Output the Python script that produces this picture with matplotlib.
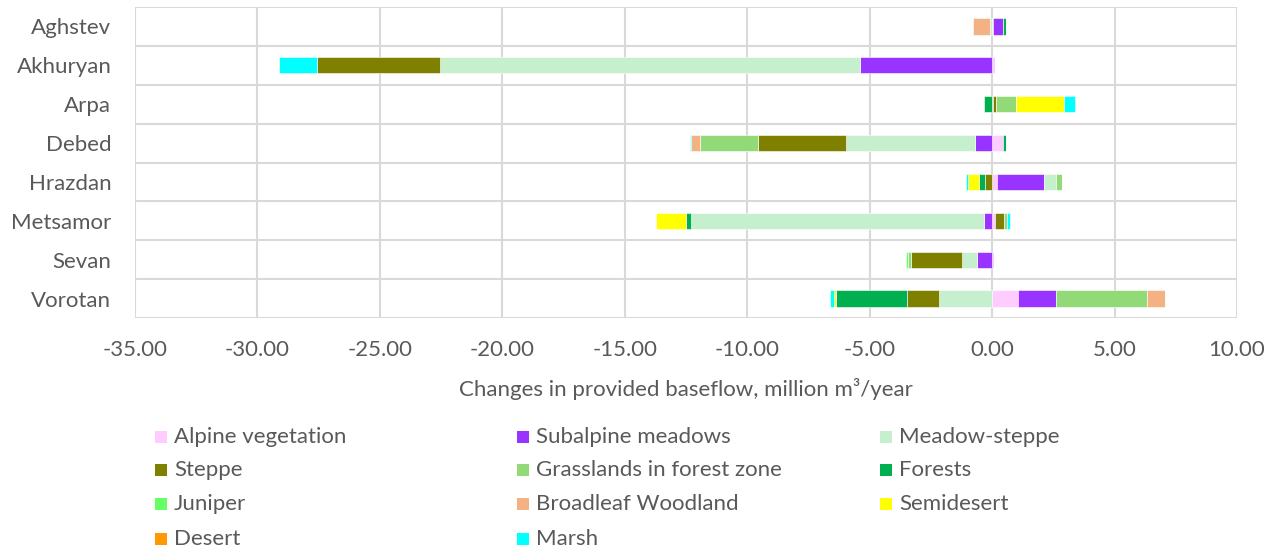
import numpy as np
import matplotlib
matplotlib.use("Agg")
import matplotlib.pyplot as plt
from matplotlib.patches import Rectangle

plt.rcParams['font.family'] = ['Lato', 'DejaVu Sans']

basins = ['Aghstev', 'Akhuryan', 'Arpa', 'Debed', 'Hrazdan', 'Metsamor', 'Sevan', 'Vorotan']

# values per series, in basin order (million m3/year)
alpine      = [0.03, 0.13, 0.03, 0.44, 0.20, 0.10, 0.08, 1.05]
subalpine   = [0.43, -5.41, 0.00, -0.68, 1.90, -0.33, -0.62, 1.56]
meadow      = [-0.07, -17.15, 0.00, -5.29, 0.50, -11.96, -0.61, -2.18]
steppe      = [0.00, -4.99, 0.13, -3.60, -0.28, 0.40, -2.10, -1.28]
grassland   = [0.00, 0.00, 0.80, -2.35, 0.25, 0.12, -0.12, 3.70]
forests     = [0.11, 0.00, -0.33, 0.14, -0.27, -0.20, 0.00, -2.91]
juniper     = [0.00, 0.00, 0.00, 0.00, 0.00, 0.00, -0.06, 0.00]
broadleaf   = [-0.70, 0.00, 0.00, -0.38, 0.00, 0.00, 0.00, 0.75]
semidesert  = [0.00, 0.00, 1.97, 0.00, -0.44, -1.23, 0.00, -0.07]
desert      = [0.00, 0.00, 0.00, 0.00, 0.00, 0.00, 0.00, 0.00]
marsh       = [0.00, -1.57, 0.45, -0.04, -0.08, 0.12, 0.00, -0.19]

series = [
    ('Alpine vegetation', alpine, '#FFCCFF'),
    ('Subalpine meadows', subalpine, '#9933FF'),
    ('Meadow-steppe', meadow, '#C6EFCE'),
    ('Steppe', steppe, '#808000'),
    ('Grasslands in forest zone', grassland, '#92D978'),
    ('Forests', forests, '#00B050'),
    ('Juniper', juniper, '#66FF66'),
    ('Broadleaf Woodland', broadleaf, '#F4B183'),
    ('Semidesert', semidesert, '#FFFF00'),
    ('Desert', desert, '#FF9900'),
    ('Marsh', marsh, '#00FFFF'),
]

text_col = '#595959'
grid_col = '#D9D9D9'
fs = 16

fig = plt.figure(figsize=(12.75, 5.56), dpi=100)
ax = fig.add_axes([135/1275, 1 - 318/556, (1237 - 135)/1275, (318 - 7)/556])

y = np.arange(len(basins))
pos = np.zeros(len(basins))
neg = np.zeros(len(basins))
for name, vals, col in series:
    v = np.array(vals)
    left = np.where(v >= 0, pos, neg)
    ax.barh(y, v, left=left, height=0.42, color=col, edgecolor='white',
            linewidth=0.4, zorder=3)
    pos += np.where(v >= 0, v, 0)
    neg += np.where(v < 0, v, 0)

ax.set_xlim(-35, 10)
ax.set_ylim(len(basins) - 0.5, -0.5)
ax.set_xticks(np.arange(-35, 11, 5))
ax.set_xticklabels(['%.2f' % t for t in np.arange(-35, 11, 5)])
ax.set_yticks(y)
ax.set_yticklabels(basins)
ax.set_yticks(np.arange(-0.5, len(basins)), minor=True)
ax.grid(True, axis='x', color=grid_col, linewidth=1.5, zorder=0)
ax.grid(True, axis='y', which='minor', color=grid_col, linewidth=1.5, zorder=0)
ax.tick_params(axis='both', which='both', length=0, colors=text_col, labelsize=fs)
ax.tick_params(axis='x', pad=16)
ax.tick_params(axis='y', pad=17)
for s in ax.spines.values():
    s.set_visible(False)
ax.set_xlabel('Changes in provided baseflow, million m³/year', color=text_col,
              fontsize=fs, labelpad=13)

# legend, filled row by row in three columns
col_x = [155, 517, 880]
row_y = [437, 470, 504, 539]
for i, (name, vals, col) in enumerate(series):
    r, c = divmod(i, 3)
    x0 = col_x[c]
    y0 = row_y[r]
    fig.add_artist(Rectangle((x0 / 1275, 1 - (y0 + 6) / 556), 12 / 1275, 12 / 556,
                             transform=fig.transFigure, color=col, lw=0))
    fig.text((x0 + 19) / 1275, 1 - y0 / 556, name, color=text_col, fontsize=fs,
             va='center', ha='left')

fig.savefig('out.png', dpi=100)
